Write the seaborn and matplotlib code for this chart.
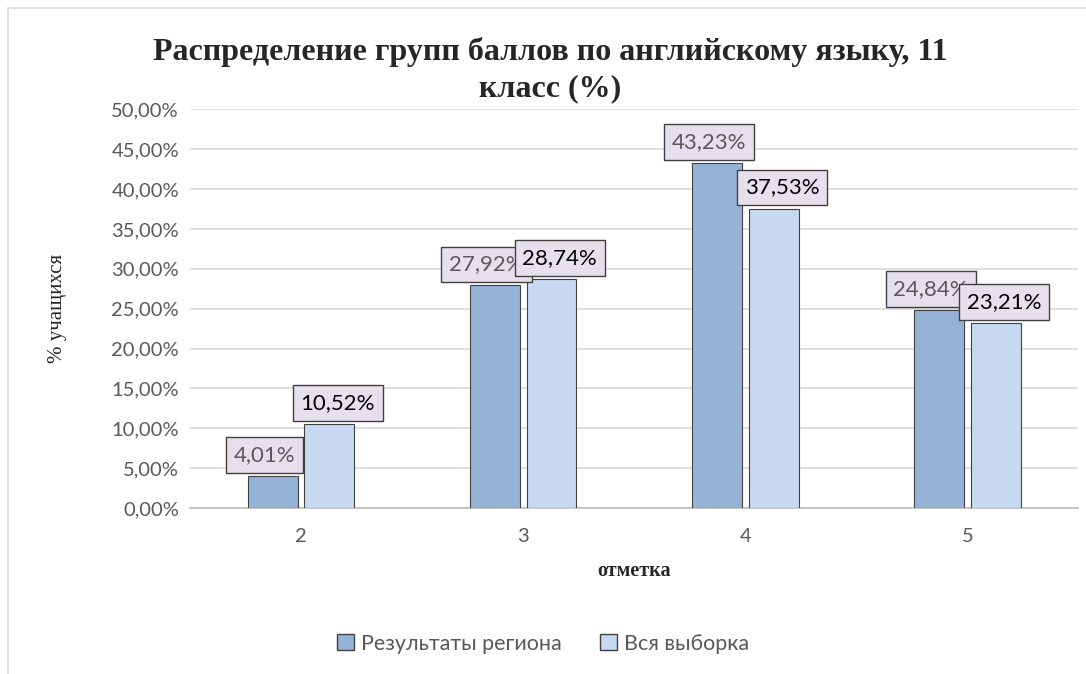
import pandas as pd
import matplotlib.pyplot as plt
import seaborn as sns
from matplotlib.patches import Rectangle, Patch

# Data
marks = ['2', '3', '4', '5']
region = [4.01, 27.92, 43.23, 24.84]
whole_sample = [10.52, 28.74, 37.53, 23.21]
series_names = ['Результаты региона', 'Вся выборка']

df = pd.DataFrame({
    'mark': marks * 2,
    'value': region + whole_sample,
    'series': [series_names[0]] * len(marks) + [series_names[1]] * len(marks),
})

sns.set_theme(style='white')
plt.rcParams['font.family'] = ['Lato', 'DejaVu Sans']

colors = ['#95B3D7', '#C6D9F0']
fig = plt.figure(figsize=(10.86, 6.74), dpi=100)
ax = fig.add_axes([0.175, 0.246, 0.818, 0.592])

sns.barplot(data=df, x='mark', y='value', hue='series', palette=colors,
            saturation=1, width=0.51, gap=0.12, edgecolor='#404040', linewidth=0.8,
            legend=False, ax=ax, zorder=3)

ax.set_ylim(0, 50)
ax.set_yticks(range(0, 51, 5))
ax.set_yticklabels([f'{v:.2f}%'.replace('.', ',') for v in range(0, 51, 5)],
                   fontsize=14.5, color='#595959')
ax.tick_params(axis='x', labelsize=14.5, labelcolor='#595959', length=0, pad=14)
ax.tick_params(axis='y', length=0, pad=8)
ax.grid(axis='y', color='#D9D9D9', linewidth=1.2, zorder=0)
for s in ['top', 'right', 'left']:
    ax.spines[s].set_visible(False)
ax.spines['bottom'].set_color('#BFBFBF')

serif = ['Liberation Serif', 'DejaVu Serif']
ax.set_xlabel('отметка', fontsize=14.5, fontweight='bold', family=serif, labelpad=12)
ax.set_ylabel('% учащихся', fontsize=15, family=serif, labelpad=32)

# data labels in boxes
box = dict(boxstyle='square,pad=0.35', facecolor='#E6E0EC', edgecolor='#404040', linewidth=1)
for container, txt_color, dx in zip(ax.containers, ['#595959', 'black'], [-6, 6]):
    for bar in container:
        h = bar.get_height()
        ax.annotate(f'{h:.2f}%'.replace('.', ','),
                    (bar.get_x() + bar.get_width() / 2, h),
                    xytext=(dx, 8), textcoords='offset points',
                    ha='center', va='bottom', fontsize=16, color=txt_color,
                    bbox=box, zorder=5)

fig.text(0.507, 0.896, 'Распределение групп баллов по английскому языку, 11\nкласс (%)',
         ha='center', va='center', fontsize=23, fontweight='bold',
         family=serif, linespacing=1.35)

handles = [Patch(facecolor=c, edgecolor='#404040', linewidth=1) for c in colors]
fig.legend(handles, series_names, loc='center', bbox_to_anchor=(0.5, 0.045),
           ncol=2, frameon=False, fontsize=15.5, labelcolor='#595959',
           handlelength=0.8, handleheight=0.8, handletextpad=0.3, columnspacing=1.8)

# outer chart frame
fig.patches.append(Rectangle((0.0075, -0.05), 1.05, 1.038, transform=fig.transFigure,
                             fill=False, edgecolor='#D9D9D9', linewidth=1.2))

fig.savefig('out.png', dpi=100)
